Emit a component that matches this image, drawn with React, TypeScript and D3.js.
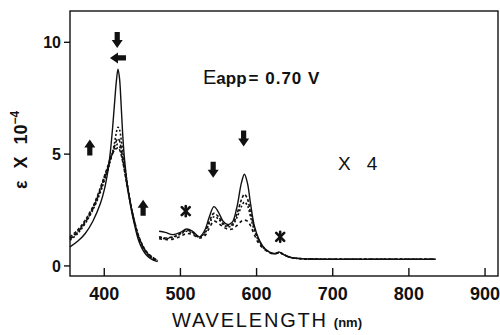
import React from "react";
import * as d3 from "d3";

// Soret band region (full scale)
const soretWl = [355, 365, 375, 385, 395, 400, 405, 408, 411, 414, 416, 418, 420, 422, 424, 426, 428, 430, 435, 440, 445, 450, 455, 460, 465, 470];
const soretSolid = [0.85, 1.1, 1.45, 2.0, 2.8, 3.4, 4.3, 5.1, 6.2, 7.5, 8.3, 8.8, 8.4, 7.3, 6.0, 5.0, 4.3, 3.7, 2.6, 1.8, 1.15, 0.75, 0.5, 0.35, 0.25, 0.2];
const soretA = [1.15, 1.45, 1.9, 2.5, 3.3, 3.8, 4.3, 4.7, 5.1, 5.6, 6.0, 6.2, 6.1, 5.7, 5.2, 4.7, 4.2, 3.7, 2.7, 1.9, 1.25, 0.85, 0.6, 0.42, 0.3, 0.22];
const soretB = [1.2, 1.5, 1.95, 2.55, 3.4, 3.9, 4.4, 4.75, 5.05, 5.4, 5.6, 5.7, 5.6, 5.3, 4.9, 4.5, 4.1, 3.65, 2.7, 1.9, 1.3, 0.9, 0.62, 0.44, 0.32, 0.24];
const soretC = [1.25, 1.55, 2.0, 2.6, 3.45, 3.95, 4.45, 4.8, 5.05, 5.3, 5.4, 5.45, 5.35, 5.1, 4.75, 4.4, 4.0, 3.6, 2.7, 1.95, 1.35, 0.92, 0.64, 0.46, 0.34, 0.25];
const soretD = [1.3, 1.6, 2.05, 2.65, 3.5, 4.0, 4.5, 4.82, 5.05, 5.2, 5.25, 5.28, 5.2, 5.0, 4.7, 4.35, 3.95, 3.55, 2.7, 1.95, 1.35, 0.95, 0.66, 0.48, 0.35, 0.26];

// Q band region (x4)
const qWl = [472, 480, 490, 500, 508, 516, 525, 532, 538, 544, 550, 556, 562, 568, 574, 580, 584, 588, 592, 597, 603, 610, 618, 624, 630, 636, 645, 660, 700, 760, 835];
const qSolid = [1.55, 1.5, 1.4, 1.5, 1.65, 1.55, 1.3, 1.6, 2.2, 2.65, 2.4, 2.0, 1.85, 1.95, 2.6, 3.7, 4.1, 3.7, 2.8, 1.8, 1.2, 0.8, 0.6, 0.55, 0.62, 0.5, 0.38, 0.32, 0.3, 0.3, 0.3];
const qA = [1.3, 1.25, 1.3, 1.45, 1.6, 1.5, 1.3, 1.5, 2.0, 2.35, 2.2, 1.9, 1.8, 1.85, 2.3, 2.95, 3.2, 3.0, 2.4, 1.7, 1.15, 0.8, 0.6, 0.55, 0.6, 0.5, 0.38, 0.32, 0.3, 0.3, 0.3];
const qB = [1.28, 1.22, 1.28, 1.42, 1.55, 1.47, 1.28, 1.45, 1.9, 2.2, 2.1, 1.85, 1.75, 1.8, 2.15, 2.65, 2.85, 2.7, 2.2, 1.6, 1.1, 0.78, 0.6, 0.55, 0.6, 0.5, 0.38, 0.32, 0.3, 0.3, 0.3];
const qC = [1.22, 1.18, 1.2, 1.32, 1.45, 1.4, 1.25, 1.35, 1.7, 2.0, 1.9, 1.75, 1.65, 1.65, 1.8, 2.0, 2.05, 2.0, 1.8, 1.4, 1.0, 0.75, 0.58, 0.54, 0.6, 0.5, 0.38, 0.32, 0.3, 0.3, 0.3];

const xTicks = [400, 500, 600, 700, 800, 900];
const yTicks = [0, 5, 10];

const arrowWl = [417, 418, 381, 451, 543, 583];
const arrowVal = [10.1, 9.3, 5.3, 2.6, 4.3, 5.7];
const arrowDir = ["down", "left", "up", "up", "down", "down"];

const starWl = [507, 631];
const starVal = [2.45, 1.3];

const W = 500;
const H = 335;
const plot = { left: 70, right: 498, top: 11, bottom: 276 };
const font = "'Liberation Sans', Arial, Helvetica, sans-serif";

const x = d3.scaleLinear().domain([355, 917]).range([plot.left, plot.right]);
const y = d3.scaleLinear().domain([-0.45, 11.4]).range([plot.bottom, plot.top]);

const lineOf = (wl: number[], vals: number[]) =>
  d3
    .line<number>()
    .x((_, i) => x(wl[i]))
    .y((d) => y(d))
    .curve(d3.curveCatmullRom.alpha(0.5))(vals) || "";

// block arrow pointing down, centered on 0,0
const arrowPath = "M-2.6,-8 L2.6,-8 L2.6,0 L5.5,0 L0,8 L-5.5,0 L-2.6,0 Z";
const rot: Record<string, number> = { down: 0, up: 180, left: 90, right: -90 };

const App = () => {
  const series = [
    { wl: soretWl, v: soretSolid, dash: "" },
    { wl: soretWl, v: soretA, dash: "2,2" },
    { wl: soretWl, v: soretB, dash: "4,2" },
    { wl: soretWl, v: soretC, dash: "2,3" },
    { wl: soretWl, v: soretD, dash: "3,2" },
    { wl: qWl, v: qSolid, dash: "" },
    { wl: qWl, v: qA, dash: "3,2" },
    { wl: qWl, v: qB, dash: "2,2" },
    { wl: qWl, v: qC, dash: "3,3" },
  ];

  return (
    <svg
      width={W}
      height={H}
      style={{ position: "absolute", left: 0, top: 0, background: "#fff" }}
    >
      <rect x={0} y={0} width={W} height={H} fill="#fff" />
      {/* frame */}
      <rect
        x={plot.left}
        y={plot.top}
        width={plot.right - plot.left}
        height={plot.bottom - plot.top}
        fill="none"
        stroke="#111"
        strokeWidth={1.4}
      />
      {/* x ticks */}
      {xTicks.map((t) => (
        <g key={t}>
          <line x1={x(t)} x2={x(t)} y1={plot.bottom} y2={plot.bottom - 8} stroke="#111" strokeWidth={1.4} />
          <text x={x(t)} y={300} textAnchor="middle" fontFamily={font} fontWeight="bold" fontSize={18} fill="#111">
            {t}
          </text>
        </g>
      ))}
      {/* y ticks */}
      {yTicks.map((t) => (
        <g key={t}>
          <line x1={plot.left - 6} x2={plot.left} y1={y(t)} y2={y(t)} stroke="#111" strokeWidth={1.4} />
          <text x={61} y={y(t)} dy="0.36em" textAnchor="end" fontFamily={font} fontWeight="bold" fontSize={16} fill="#111">
            {t}
          </text>
        </g>
      ))}
      {/* curves */}
      {series.map((s, i) => (
        <path
          key={i}
          d={lineOf(s.wl, s.v)}
          fill="none"
          stroke="#111"
          strokeWidth={s.dash ? 1.6 : 1.4}
          strokeDasharray={s.dash || undefined}
        />
      ))}
      {/* arrows */}
      {arrowWl.map((w, i) => (
        <path
          key={i}
          d={arrowPath}
          fill="#111"
          transform={`translate(${x(w)},${y(arrowVal[i])}) rotate(${rot[arrowDir[i]]})`}
        />
      ))}
      {/* asterisks */}
      {starWl.map((w, i) => (
        <g key={i} transform={`translate(${x(w)},${y(starVal[i])})`} stroke="#111" strokeWidth={2.6} strokeLinecap="round">
          <line x1={-4} y1={-4} x2={4} y2={4} />
          <line x1={-4} y1={4} x2={4} y2={-4} />
          <line x1={0} y1={-5} x2={0} y2={5} />
        </g>
      ))}
      {/* annotations */}
      <text x={203} y={84} fontFamily={font} fill="#111">
        <tspan fontSize={20}>E</tspan>
        <tspan fontSize={17} fontWeight="bold">app</tspan>
        <tspan fontSize={17} fontWeight="bold" dx={2} letterSpacing={1}>= 0.70 V</tspan>
      </text>
      <text x={338} y={170} fontFamily={font} fontSize={19} fill="#111">
        X<tspan dx={16}>4</tspan>
      </text>
      {/* axis titles */}
      <text x={172} y={327} fontFamily={font} fontSize={20} letterSpacing={1.8} fill="#111">
        WAVELENGTH
        <tspan fontSize={13} fontWeight="bold" letterSpacing={0} dx={6}>(nm)</tspan>
      </text>
      <text transform="translate(27,189) rotate(-90)" fontFamily={font} fontWeight="bold" fontSize={18} fill="#111">
        ε<tspan dx={12}>X</tspan>
        <tspan dx={12}>10</tspan>
        <tspan fontSize={12} dy={-8}>−4</tspan>
      </text>
    </svg>
  );
};

export default App;
